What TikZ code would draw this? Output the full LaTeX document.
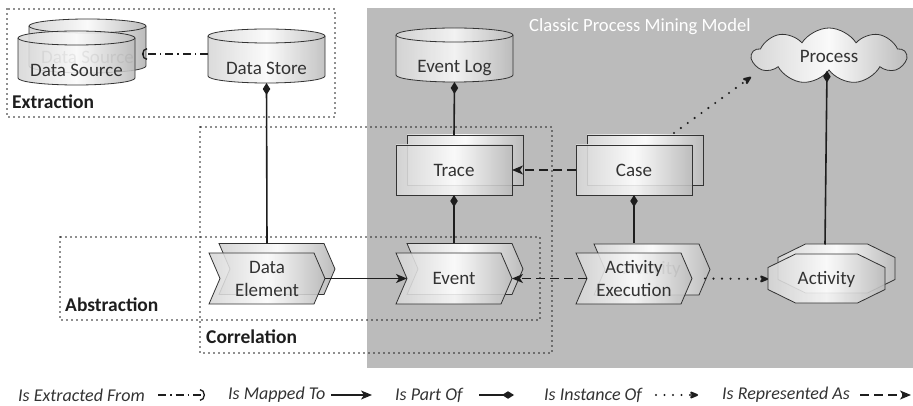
\documentclass[tikz,border=0pt]{standalone}
\usepackage{fontspec}
\setmainfont{Carlito}
\usetikzlibrary{arrows.meta,shapes.symbols,shapes.geometric,calc}
\definecolor{bgG}{RGB}{187,187,187}
\definecolor{inkC}{RGB}{51,51,51}
\definecolor{lineC}{RGB}{30,30,30}
\definecolor{shL}{RGB}{214,214,214}
\definecolor{shM}{RGB}{250,250,250}
\definecolor{shR}{RGB}{188,188,188}
\definecolor{ghostC}{RGB}{110,110,110}
\tikzset{
  shp/.style={draw=inkC, line width=0.8pt, left color=shL, right color=shR, middle color=shM, fill opacity=0.88},
  shpback/.style={draw=inkC, line width=0.8pt, left color=shL, right color=shR, middle color=shM},
  box/.style={inner sep=0pt, outer sep=0pt, draw=none},
  lbl/.style={inner sep=0pt, text=inkC, font=\fontsize{19}{23}\selectfont, align=center},
  ghost/.style={lbl, text=ghostC},
  legtxt/.style={inner sep=0pt, text=inkC, font=\fontsize{18}{22}\selectfont\itshape, anchor=west},
  grp/.style={inner sep=0pt, text=lineC, font=\fontsize{19.5}{22}\selectfont\bfseries, anchor=west},
  ttl/.style={inner sep=0pt, text=white, font=\fontsize{18.6}{20}\selectfont, anchor=west},
  frame/.style={draw=lineC, line width=1.8pt, line cap=round, dash pattern=on 0pt off 5pt},
  partof/.style={draw=lineC, line width=1.6pt, {Diamond[length=12pt,width=7.5pt]}-},
  mapped/.style={draw=lineC, line width=1.6pt, -{Stealth[length=11pt,width=9pt,inset=3pt]}},
  reprs/.style={draw=lineC, line width=1.6pt, dash pattern=on 9pt off 5pt, -{Stealth[length=11pt,width=9pt,inset=3pt]}},
  inst/.style={draw=lineC, line width=2.4pt, line cap=round, dash pattern=on 0pt off 8.5pt, -{Stealth[length=11pt,width=9pt,inset=3pt,round=false]}},
  extr/.style={draw=lineC, line width=1.5pt, dash pattern=on 8pt off 4pt on 1.5pt off 4pt, -{Arc Barb[length=5pt,width=12pt,line width=1.3pt]}},
}
\newcommand\cylpath[3]{%
  \path[#3,shift={(#1,#2)}] (-58.5,-20) -- (-58.5,20) arc[start angle=180,end angle=360,x radius=58.5pt,y radius=7pt] -- (58.5,-20) arc[start angle=0,end angle=180,x radius=58.5pt,y radius=7pt] -- cycle;
  \draw[inkC,line width=0.8pt,shift={(#1,#2)}] (-58.5,-20) arc[start angle=180,end angle=360,x radius=58.5pt,y radius=7pt];}
\newcommand\chevpath[3]{%
  \path[#3,shift={(#1,#2)}] (-58,-25.5) -- (47,-25.5) -- (58,0) -- (47,25.5) -- (-58,25.5) -- (-47,0) -- cycle;}
\newcommand\rectpath[3]{%
  \path[#3,shift={(#1,#2)}] (-58,-25) rectangle (58,25);}
\newcommand\octpath[3]{%
  \path[#3,shift={(#1,#2)}] (-58.5,-11) -- (-31,-24.5) -- (31,-24.5) -- (58.5,-11) -- (58.5,11) -- (31,24.5) -- (-31,24.5) -- (-58.5,11) -- cycle;}
\begin{document}
\begin{tikzpicture}[x=1pt,y=-1pt]
\useasboundingbox (0,0) rectangle (913,406);
\fill[bgG] (367,8) rectangle (913,368);
\node[ttl] (title) at (529,27) {Classic Process Mining Model};

% group frames
\draw[frame] (7,9) rectangle (335,117);
\draw[frame] (200,127) rectangle (552,353);
\draw[frame] (60,237) rectangle (540,320);
\node[grp] (gextr) at (12,102) {Extraction};
\node[grp] (gabst) at (65,305) {Abstraction};
\node[grp] (gcorr) at (206,337) {Correlation};

% Data Source (stacked cylinders)
\cylpath{87.5}{46}{shpback}
\node[ghost] (dsrcghost) at (87.5,57) {Data Source};
\cylpath{76.5}{58}{shp}
\node[box, minimum width=117pt, minimum height=54pt] (dsrc) at (76.5,58) {};
\node[lbl] (dsrctext) at (76.5,70) {Data Source};
\coordinate (dsrcin) at (142,54);

% Data Store
\cylpath{266.5}{56}{shp}
\node[box, minimum width=117pt, minimum height=54pt] (dstore) at (266.5,56) {};
\node[lbl] (dstoretext) at (266.5,68.5) {Data Store};

% Event Log
\cylpath{454.5}{55}{shp}
\node[box, minimum width=117pt, minimum height=54pt] (elog) at (454.5,55) {};
\node[lbl] (elogtext) at (454.5,68) {Event Log};

% Process cloud
\node[cloud, cloud puffs=9, cloud puff arc=115, cloud ignores aspect, minimum width=154pt, minimum height=56pt, shpback, lbl, text=inkC] (process) at (829,56) {Process};

% Trace
\rectpath{465}{160}{shpback}
\rectpath{454}{170}{shp}
\node[box, lbl, minimum width=116pt, minimum height=50pt] (trace) at (454,170) {Trace};

% Case
\rectpath{645}{160}{shpback}
\rectpath{634}{170}{shp}
\node[box, lbl, minimum width=116pt, minimum height=50pt] (case) at (634,170) {Case};

% Data Element
\chevpath{277}{269}{shpback}
\chevpath{267}{278.5}{shp}
\node[box, lbl, minimum width=116pt, minimum height=51pt] (delem) at (267,278.5) {Data\\Element};

% Event
\chevpath{465}{269}{shpback}
\chevpath{454}{278.5}{shp}
\node[box, lbl, minimum width=116pt, minimum height=51pt] (event) at (454,278.5) {Event};

% Activity Execution
\chevpath{652}{269.5}{shpback}
\node[ghost] (actghost) at (652,269) {Activity};
\chevpath{634}{278.5}{shp}
\node[box, lbl, minimum width=116pt, minimum height=51pt] (actexec) at (634,278.5) {Activity\\Execution};

% Activity
\octpath{836.5}{268.5}{shpback}
\octpath{826.5}{278.5}{shp}
\node[box, lbl, minimum width=117pt, minimum height=49pt] (activity) at (826.5,279) {Activity};

% connectors
\draw[extr] (dstore.west |- dsrcin) -- (dsrcin);
\draw[partof] (dstore.south) -- ([yshift=9.5pt]delem.north);
\draw[partof] (elog.south) -- ([yshift=10pt]trace.north);
\draw[partof] (trace.south) -- ([yshift=9.5pt]event.north);
\draw[partof] (case.south) -- ([yshift=9.5pt]actexec.north);
\draw[partof] ([xshift=-2pt]process.south) -- ([xshift=-1.5pt,yshift=10pt]activity.north);
\draw[reprs] (case.west) -- (trace.east);
\draw[reprs] ([xshift=11pt]actexec.west) -- (event.east);
\draw[mapped] (delem.east) -- ([xshift=11pt]event.west);
\draw[inst] ([xshift=13pt]actexec.east) -- (activity.west);
\coordinate (caseout) at (674,133);
\coordinate (procin) at (751,77);
\draw[inst] (caseout) -- (procin);

% legend
\node[legtxt] (l1) at (18,395) {Is Extracted From};
\coordinate (l1a) at (158,395); \coordinate (l1b) at (205,395);
\draw[extr] (l1a) -- (l1b);
\node[legtxt] (l2) at (228,395) {Is Mapped To};
\coordinate (l2a) at (331,395); \coordinate (l2b) at (372,395);
\draw[mapped] (l2a) -- (l2b);
\node[legtxt] (l3) at (395,395) {Is Part Of};
\coordinate (l3a) at (479,395); \coordinate (l3b) at (514,395);
\draw[partof] (l3b) -- (l3a);
\node[legtxt] (l4) at (544,395) {Is Instance Of};
\coordinate (l4a) at (656,395); \coordinate (l4b) at (698,395);
\draw[inst] (l4a) -- (l4b);
\node[legtxt] (l5) at (722,395) {Is Represented As};
\coordinate (l5a) at (860,395); \coordinate (l5b) at (911,395);
\draw[reprs] (l5a) -- (l5b);
\end{tikzpicture}
\end{document}
